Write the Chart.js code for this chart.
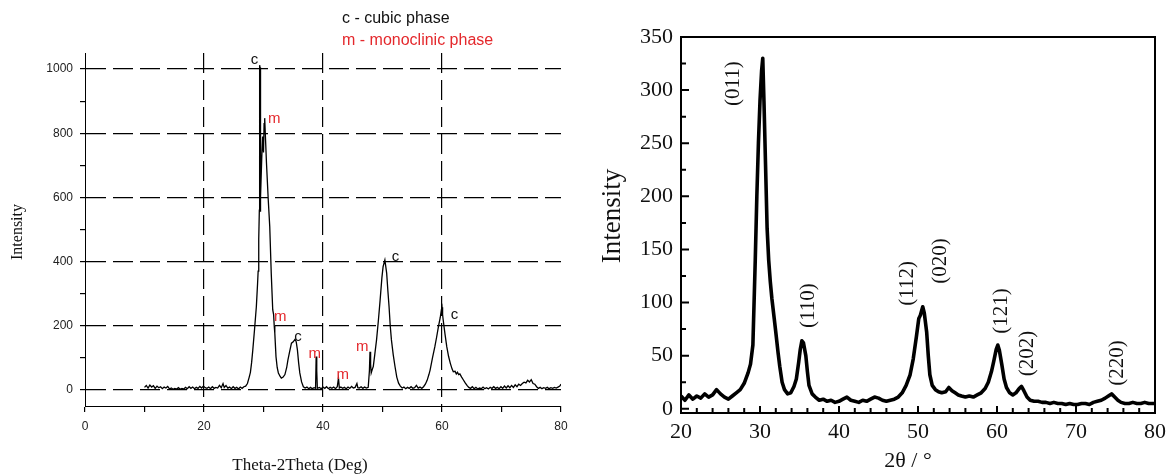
<!DOCTYPE html>
<html>
<head>
<meta charset="utf-8">
<script src="https://cdn.jsdelivr.net/npm/chart.js@4/dist/chart.umd.min.js"></script>
<style>
  body { margin: 0; background: #fff; width: 1173px; height: 476px; overflow: hidden; position: relative; }
  canvas { position: absolute; top: 0; }
  #xrdLeft { left: 0; }
  #xrdRight { left: 590px; }
</style>
</head>
<body>
<canvas id="xrdLeft" width="590" height="476"></canvas>
<canvas id="xrdRight" width="583" height="476"></canvas>
<script>
// ---- left pattern (cubic + monoclinic) ----
const leftTheta = [10.0, 10.3, 10.6, 10.9, 11.2, 11.5, 11.8, 12.1, 12.4, 12.7, 13.0, 13.3, 13.6, 13.9, 14.2, 14.5, 14.8, 15.1, 15.4, 15.7,
  16.0, 16.3, 16.6, 16.9, 17.2, 17.5, 17.8, 18.1, 18.4, 18.7, 19.0, 19.3, 19.6, 19.9, 20.2, 20.5, 20.8, 21.1, 21.4, 21.7,
  22.0, 22.3, 22.6, 22.9, 23.2, 23.4, 23.7, 24.0, 24.3, 24.6, 24.9, 25.2, 25.5, 25.8, 26.1, 26.4, 26.7, 27.0, 27.3, 27.6,
  27.8, 28.0, 28.2, 28.5, 28.8, 29.0, 29.1, 29.2, 29.3, 29.35, 29.42, 29.45, 29.55, 29.7, 29.85, 30.0, 30.1, 30.2, 30.3, 30.5,
  30.8, 31.05, 31.3, 31.55, 31.7, 31.8, 31.9, 32.1, 32.3, 32.5, 32.8, 33.0, 33.3, 33.6, 33.9, 34.1, 34.4, 34.7, 35.0, 35.3,
  35.5, 35.7, 35.9, 36.1, 36.4, 36.7, 37.0, 37.3, 37.6, 37.9, 38.2, 38.5, 38.75, 38.85, 38.95, 39.05, 39.4, 39.7, 40.0, 40.3,
  40.6, 40.9, 41.2, 41.5, 41.8, 42.1, 42.4, 42.6, 42.75, 43.0, 43.3, 43.6, 43.9, 44.2, 44.5, 44.8, 45.1, 45.4, 45.7, 45.85,
  46.1, 46.4, 46.7, 47.0, 47.3, 47.6, 47.8, 47.9, 48.0, 48.1, 48.3, 48.45, 48.7, 49.0, 49.3, 49.6, 49.9, 50.1, 50.4, 50.7,
  50.9, 51.1, 51.3, 51.5, 51.8, 52.1, 52.4, 52.7, 53.0, 53.3, 53.6, 53.9, 54.2, 54.5, 54.8, 55.1, 55.4, 55.7, 56.0, 56.3,
  56.6, 56.9, 57.2, 57.5, 57.8, 58.0, 58.4, 58.8, 59.1, 59.4, 59.7, 59.9, 60.0, 60.1, 60.2, 60.5, 60.8, 61.1, 61.4, 61.7,
  61.9, 62.2, 62.4, 62.6, 62.8, 63.0, 63.3, 63.6, 63.9, 64.2, 64.5, 64.8, 65.1, 65.4, 65.7, 66.0, 66.3, 66.6, 66.9, 67.2,
  67.5, 67.8, 68.1, 68.4, 68.7, 69.0, 69.3, 69.6, 69.9, 70.2, 70.5, 70.8, 71.1, 71.4, 71.7, 72.0, 72.3, 72.6, 72.9, 73.2,
  73.5, 73.8, 74.1, 74.4, 74.7, 75.0, 75.3, 75.6, 75.9, 76.2, 76.5, 76.8, 77.1, 77.4, 77.7, 78.0, 78.3, 78.6, 78.9, 79.2,
  79.5, 79.8, 80.0];
const leftCounts = [8, 14, 6, 15, 9, 13, 5, 12, 7, 10, 4, 9, 6, 11, 3, 6, 2, 5, 3, 7,
  2, 5, 3, 8, 4, 10, 5, 9, 4, 8, 5, 11, 6, 12, 7, 5, 9, 4, 10, 5,
  8, 6, 14, 7, 20, 8, 14, 6, 9, 4, 10, 5, 8, 3, 9, 5, 10, 12, 20, 40,
  55, 85, 124, 190, 260, 330, 370, 470, 560, 1012, 1005, 555, 600, 720, 790, 740, 830, 847, 800, 707,
  592, 509, 364, 250, 235, 200, 177, 104, 70, 53, 42, 37, 40, 48, 70, 93, 120, 146, 150, 158,
  150, 125, 85, 53, 25, 10, 6, 9, 4, 8, 4, 7, 5, 104, 60, 5, 8, 4, 9, 5,
  10, 4, 8, 5, 9, 4, 10, 37, 6, 9, 5, 8, 4, 9, 5, 11, 6, 8, 20, 7,
  6, 10, 5, 9, 6, 8, 60, 119, 80, 53, 65, 73, 110, 156, 215, 280, 350, 384, 405, 364,
  310, 260, 200, 156, 110, 73, 40, 21, 12, 6, 9, 4, 8, 5, 10, 5, 7, 14, 6, 9,
  5, 10, 18, 30, 48, 62, 100, 135, 165, 197, 225, 250, 258, 235, 218, 175, 135, 105, 83, 65,
  57, 58, 50, 55, 48, 50, 40, 31, 22, 14, 8, 5, 10, 4, 8, 3, 6, 4, 9, 4,
  7, 3, 8, 5, 10, 5, 8, 4, 10, 5, 12, 6, 13, 7, 14, 8, 16, 10, 18, 14,
  20, 24, 22, 30, 25, 32, 20, 18, 10, 5, 8, 4, 7, 5, 8, 4, 7, 5, 8, 6,
  9, 12, 18];
const leftXTicks = [0, 10, 20, 30, 40, 50, 60, 70, 80];
const leftXLabelled = [0, 20, 40, 60, 80];
const leftXGrid = [20, 40, 60];
const leftYTicks = [0, 100, 200, 300, 400, 500, 600, 700, 800, 900, 1000];
const leftYLabelled = [0, 200, 400, 600, 800, 1000];
const leftMarkText = ['c', 'm', 'm', 'c', 'm', 'm', 'm', 'c', 'c'];
const leftMarkX = [28.5, 31.8, 32.8, 35.8, 38.6, 43.3, 46.6, 52.2, 62.1];
const leftMarkY = [1028, 846, 227, 164, 114, 48, 133, 416, 235];
const legendLines = ['c - cubic phase', 'm - monoclinic phase'];

// ---- right pattern ----
const rightTheta = [20.0, 20.5, 21.0, 21.5, 22.0, 22.5, 23.0, 23.5, 24.0, 24.5, 25.0, 25.5, 26.0, 26.5, 27.0, 27.5, 28.0, 28.5, 28.8, 29.1,
  29.4, 29.6, 29.8, 30.0, 30.2, 30.35, 30.5, 30.7, 30.9, 31.1, 31.3, 31.5, 31.8, 32.0, 32.3, 32.5, 32.8, 33.1, 33.5, 33.9,
  34.3, 34.6, 34.9, 35.1, 35.3, 35.5, 35.8, 36.0, 36.2, 36.6, 37.0, 37.5, 38.0, 38.5, 39.0, 39.5, 40.0, 40.5, 41.0, 41.5,
  42.0, 42.5, 43.0, 43.5, 44.0, 44.5, 45.0, 45.5, 46.0, 46.5, 47.0, 47.5, 48.0, 48.5, 49.0, 49.4, 49.8, 50.1, 50.3, 50.6,
  50.8, 51.1, 51.3, 51.5, 51.8, 52.2, 52.6, 53.0, 53.5, 53.9, 54.3, 54.7, 55.1, 55.5, 56.0, 56.5, 57.0, 57.5, 58.0, 58.5,
  58.9, 59.3, 59.6, 59.9, 60.1, 60.3, 60.6, 60.9, 61.2, 61.6, 62.0, 62.4, 62.8, 63.1, 63.4, 63.8, 64.2, 64.7, 65.2, 65.7,
  66.2, 66.7, 67.2, 67.7, 68.2, 68.7, 69.2, 69.7, 70.2, 70.7, 71.2, 71.7, 72.2, 72.7, 73.2, 73.7, 74.1, 74.5, 74.9, 75.3,
  75.7, 76.2, 76.7, 77.2, 77.7, 78.2, 78.7, 79.2, 79.7, 80.0];
const rightCounts = [12, 8, 13, 9, 12, 10, 14, 11, 13, 18, 14, 11, 9, 12, 15, 18, 24, 34, 42, 60,
  140, 200, 250, 290, 318, 330, 290, 230, 170, 140, 120, 104, 85, 72, 52, 40, 25, 18, 14, 15,
  21, 28, 44, 56, 64, 62, 50, 35, 22, 14, 11, 8, 9, 7, 8, 6, 7, 9, 11, 8,
  7, 6, 8, 7, 9, 11, 10, 8, 7, 8, 9, 11, 15, 22, 32, 47, 68, 85, 88, 96,
  90, 72, 50, 32, 22, 18, 16, 15, 16, 20, 17, 15, 13, 12, 11, 12, 11, 13, 15, 19,
  25, 35, 45, 56, 60, 55, 42, 28, 20, 15, 13, 15, 19, 21, 17, 11, 8, 7, 7, 6,
  6, 5, 6, 5, 5, 4, 5, 4, 4, 5, 5, 4, 6, 7, 8, 10, 12, 14, 11, 8,
  6, 5, 5, 6, 5, 5, 6, 5, 5, 5];
const rightXTicks = [20, 30, 40, 50, 60, 70, 80];
const rightXMinor = [22, 24, 26, 28, 32, 34, 36, 38, 42, 44, 46, 48, 52, 54, 56, 58, 62, 64, 66, 68, 72, 74, 76, 78];
const rightYTicks = [0, 50, 100, 150, 200, 250, 300, 350];
const rightYMinor = [25, 75, 125, 175, 225, 275, 325];
const peakText = ['(011)', '(110)', '(112)', '(020)', '(121)', '(202)', '(220)'];
const peakX = [26.6, 36.2, 48.7, 52.8, 60.6, 63.8, 75.2];
const peakY = [306, 97, 118, 139, 92, 52, 43];

const SANS = '"Liberation Sans", Arial, sans-serif';
const SERIF = '"Liberation Serif", "Times New Roman", serif';
const RED = '#e4282c';

const leftText = {
  id: 'leftText',
  afterDraw(chart) {
    const { ctx, scales: { x, y } } = chart;
    ctx.save();
    ctx.textBaseline = 'middle';
    ctx.textAlign = 'left';
    ctx.font = '16px ' + SANS;
    ctx.fillStyle = '#111';
    ctx.fillText(legendLines[0], 342, 19);
    ctx.fillStyle = RED;
    ctx.fillText(legendLines[1], 342, 41);

    ctx.textAlign = 'center';
    ctx.font = '15px ' + SANS;
    leftMarkText.forEach((t, i) => {
      ctx.fillStyle = t === 'm' ? RED : '#111';
      ctx.fillText(t, x.getPixelForValue(leftMarkX[i]), y.getPixelForValue(leftMarkY[i]));
    });

    ctx.fillStyle = '#111';
    ctx.font = '17px ' + SERIF;
    ctx.fillText('Theta-2Theta (Deg)', 300, 466);
    ctx.translate(18, 232);
    ctx.rotate(-Math.PI / 2);
    ctx.font = '16px ' + SERIF;
    ctx.fillText('Intensity', 0, 0);
    ctx.restore();
  }
};

const rightText = {
  id: 'rightText',
  afterDraw(chart) {
    const { ctx, chartArea: a, scales: { x, y } } = chart;
    ctx.save();
    // frame
    ctx.strokeStyle = '#000';
    ctx.lineWidth = 2;
    ctx.strokeRect(a.left, a.top, a.right - a.left, a.bottom - a.top);
    // inward ticks
    ctx.beginPath();
    rightYTicks.forEach(v => { const p = y.getPixelForValue(v); ctx.moveTo(a.left, p); ctx.lineTo(a.left + 8, p); });
    rightYMinor.forEach(v => { const p = y.getPixelForValue(v); ctx.moveTo(a.left, p); ctx.lineTo(a.left + 5, p); });
    rightXTicks.forEach(v => { const p = x.getPixelForValue(v); ctx.moveTo(p, a.bottom); ctx.lineTo(p, a.bottom - 7); });
    rightXMinor.forEach(v => { const p = x.getPixelForValue(v); ctx.moveTo(p, a.bottom); ctx.lineTo(p, a.bottom - 5); });
    ctx.stroke();

    ctx.fillStyle = '#111';
    ctx.textAlign = 'center';
    ctx.textBaseline = 'middle';
    ctx.font = '21px ' + SERIF;
    peakText.forEach((t, i) => {
      ctx.save();
      ctx.translate(x.getPixelForValue(peakX[i]), y.getPixelForValue(peakY[i]));
      ctx.rotate(-Math.PI / 2);
      ctx.fillText(t, 0, 0);
      ctx.restore();
    });

    ctx.font = '22px ' + SERIF;
    ctx.fillText('2θ / °', 318, 461);
    ctx.translate(23, 216);
    ctx.rotate(-Math.PI / 2);
    ctx.font = '27px ' + SERIF;
    ctx.fillText('Intensity', 0, 0);
    ctx.restore();
  }
};

const pts = (xs, ys) => xs.map((v, i) => ({ x: v, y: ys[i] }));

new Chart(document.getElementById('xrdLeft'), {
  type: 'scatter',
  data: {
    datasets: [{
      data: pts(leftTheta, leftCounts),
      showLine: true,
      borderColor: '#000',
      borderWidth: 1.3,
      pointRadius: 0,
      tension: 0
    }]
  },
  options: {
    responsive: false,
    animation: false,
    layout: { padding: { left: 0, right: 29, top: 53, bottom: 0 } },
    plugins: { legend: { display: false }, tooltip: { enabled: false } },
    scales: {
      x: {
        type: 'linear', min: 0, max: 80,
        afterBuildTicks: s => { s.ticks = leftXTicks.map(v => ({ value: v })); },
        afterFit: s => { s.height = 70; },
        border: { color: '#000', width: 1, dash: [20, 7] },
        grid: {
          color: c => leftXGrid.includes(c.tick.value) ? '#000' : 'rgba(0,0,0,0)',
          lineWidth: 1.2, tickColor: '#000', tickLength: 6, tickBorderDash: []
        },
        ticks: {
          autoSkip: false, maxRotation: 0, padding: 7, color: '#222',
          font: { family: SANS, size: 12 },
          callback: v => leftXLabelled.includes(v) ? String(v) : ''
        }
      },
      y: {
        min: -50, max: 1050,
        afterBuildTicks: s => { s.ticks = leftYTicks.map(v => ({ value: v })); },
        afterFit: s => { s.width = 85; },
        border: { color: '#000', width: 1, dash: [20, 7] },
        grid: {
          color: c => leftYLabelled.includes(c.tick.value) ? '#000' : 'rgba(0,0,0,0)',
          lineWidth: 1.2, tickColor: '#000', tickLength: 5, tickBorderDash: []
        },
        ticks: {
          autoSkip: false, padding: 7, color: '#222',
          font: { family: SANS, size: 12 },
          callback: v => leftYLabelled.includes(v) ? String(v) : ''
        }
      }
    }
  },
  plugins: [leftText]
});

new Chart(document.getElementById('xrdRight'), {
  type: 'scatter',
  data: {
    datasets: [{
      data: pts(rightTheta, rightCounts),
      showLine: true,
      borderColor: '#000',
      borderWidth: 3.6,
      borderJoinStyle: 'round',
      pointRadius: 0,
      tension: 0
    }]
  },
  options: {
    responsive: false,
    animation: false,
    layout: { padding: { left: 0, right: 18, top: 37, bottom: 0 } },
    plugins: { legend: { display: false }, tooltip: { enabled: false } },
    scales: {
      x: {
        type: 'linear', min: 20, max: 80,
        afterBuildTicks: s => { s.ticks = rightXTicks.map(v => ({ value: v })); },
        afterFit: s => { s.height = 63; },
        border: { display: false },
        grid: { drawOnChartArea: false, drawTicks: false },
        ticks: { autoSkip: false, maxRotation: 0, padding: 6, color: '#111', font: { family: SERIF, size: 22 } }
      },
      y: {
        min: -4, max: 350,
        afterBuildTicks: s => { s.ticks = rightYTicks.map(v => ({ value: v })); },
        afterFit: s => { s.width = 91; },
        border: { display: false },
        grid: { drawOnChartArea: false, drawTicks: false },
        ticks: { autoSkip: false, padding: 8, color: '#111', font: { family: SERIF, size: 22 } }
      }
    }
  },
  plugins: [rightText]
});
</script>
</body>
</html>
